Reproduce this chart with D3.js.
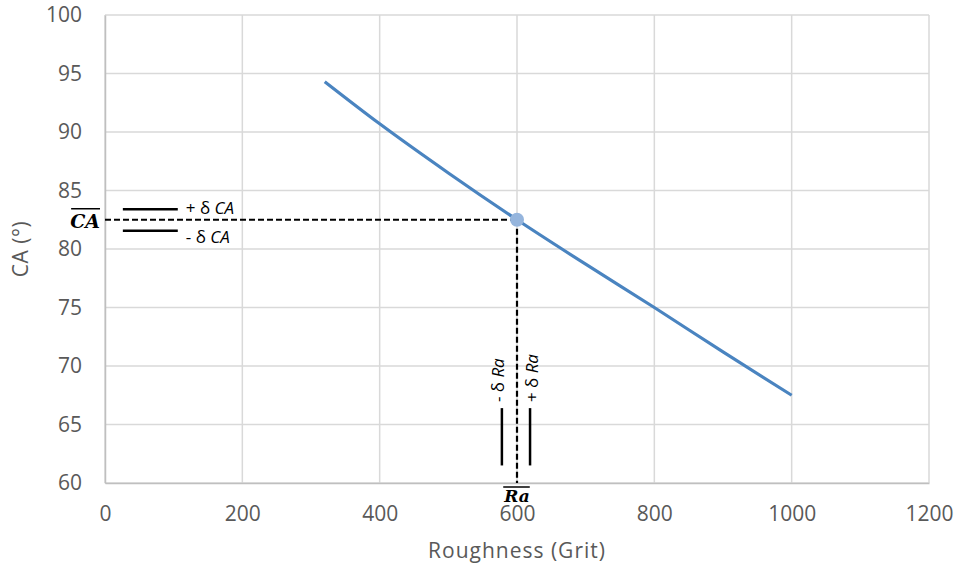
<!DOCTYPE html>
<html>
<head>
<meta charset="utf-8">
<script src="https://cdn.jsdelivr.net/npm/d3@7"></script>
<style>
  body { margin: 0; background: #fff; }
  svg text { font-family: "Open Sans", Lato, sans-serif; }
</style>
</head>
<body>
<div id="chart"></div>
<script>
// curve data
var grit = [320, 400, 500, 600, 700, 800, 900, 1000];
var contactAngle = [94.3, 90.7, 86.5, 82.5, 78.7, 75.0, 71.2, 67.5];

var xTicks = [0, 200, 400, 600, 800, 1000, 1200];
var yTicks = [60, 65, 70, 75, 80, 85, 90, 95, 100];

// annotation values
var raMean = 600, caMean = 82.5;
var caDeltaLevels = [83.4, 81.55];      // +dCA, -dCA
var caDeltaSpan = [26, 106];            // grit range of the short lines
var raDeltaLevels = [578, 619];         // -dRa, +dRa
var raDeltaSpan = [61.5, 66.4];         // CA range of the short lines

var W = 956, H = 567;
var margin = { top: 15, right: 27, bottom: 84, left: 105 },
    width = W - margin.left - margin.right,
    height = H - margin.top - margin.bottom;

var svg = d3.select("#chart").append("svg")
    .attr("width", W)
    .attr("height", H);

var g = svg.append("g")
    .attr("transform", "translate(" + margin.left + "," + margin.top + ")");

var x = d3.scaleLinear().domain([0, 1200]).range([0, width]);
var y = d3.scaleLinear().domain([60, 100]).range([height, 0]);

// gridlines
g.selectAll(".hgrid").data(yTicks).enter().append("line")
    .attr("x1", 0).attr("x2", width)
    .attr("y1", d => y(d)).attr("y2", d => y(d))
    .attr("stroke", "#d9d9d9").attr("stroke-width", 1.5);
g.selectAll(".vgrid").data(xTicks).enter().append("line")
    .attr("y1", 0).attr("y2", height)
    .attr("x1", d => x(d)).attr("x2", d => x(d))
    .attr("stroke", "#d9d9d9").attr("stroke-width", 1.5);

// axes
var gx = g.append("g")
    .attr("transform", "translate(0," + height + ")")
    .call(d3.axisBottom(x).tickValues(xTicks).tickFormat(d3.format("d")).tickSize(0).tickPadding(23));
var gy = g.append("g")
    .call(d3.axisLeft(y).tickValues(yTicks).tickSize(0).tickPadding(23));
[gx, gy].forEach(function (a) {
  a.select(".domain").attr("stroke", "#bfbfbf").attr("stroke-width", 1.5);
  a.selectAll("text").attr("fill", "#595959").style("font-size", "21px");
});

// axis titles
svg.append("text")
    .attr("x", margin.left + x(600)).attr("y", 558)
    .attr("text-anchor", "middle")
    .attr("fill", "#595959").style("font-size", "21px").style("letter-spacing", "1px")
    .text("Roughness (Grit)");
svg.append("text")
    .attr("transform", "translate(28," + (margin.top + y(80)) + ") rotate(-90)")
    .attr("text-anchor", "middle")
    .attr("fill", "#595959").style("font-size", "21px").style("letter-spacing", "0.5px")
    .text("CA (°)");

// the curve
var line = d3.line()
    .x((d, i) => x(grit[i]))
    .y(d => y(d))
    .curve(d3.curveMonotoneX);
g.append("path")
    .datum(contactAngle)
    .attr("fill", "none")
    .attr("stroke", "#4a84c0")
    .attr("stroke-width", 3.2)
    .attr("d", line);

// dashed guides to the mean point
g.append("line")
    .attr("x1", x(0)).attr("x2", x(raMean))
    .attr("y1", y(caMean)).attr("y2", y(caMean))
    .attr("stroke", "#000").attr("stroke-width", 2.2).attr("stroke-dasharray", "6,3");
g.append("line")
    .attr("x1", x(raMean)).attr("x2", x(raMean))
    .attr("y1", y(caMean)).attr("y2", y(60))
    .attr("stroke", "#000").attr("stroke-width", 2.2).attr("stroke-dasharray", "6,3");

g.append("circle")
    .attr("cx", x(raMean)).attr("cy", y(caMean)).attr("r", 7)
    .attr("fill", "#95b5dd");

// +/- delta CA marks
g.selectAll(".cadelta").data(caDeltaLevels).enter().append("line")
    .attr("x1", x(caDeltaSpan[0])).attr("x2", x(caDeltaSpan[1]))
    .attr("y1", d => y(d)).attr("y2", d => y(d))
    .attr("stroke", "#000").attr("stroke-width", 2.5);
var caLabels = ["+ δ ", "- δ "];
caDeltaLevels.forEach(function (v, i) {
  var t = g.append("text")
      .attr("x", x(caDeltaSpan[1]) + 8)
      .attr("y", y(v) + (i == 0 ? 5 : 12))
      .style("font-size", "17px").attr("fill", "#000");
  t.append("tspan").text(caLabels[i]);
  t.append("tspan").attr("font-style", "italic").text("CA");
});

// +/- delta Ra marks
g.selectAll(".radelta").data(raDeltaLevels).enter().append("line")
    .attr("x1", d => x(d)).attr("x2", d => x(d))
    .attr("y1", y(raDeltaSpan[0])).attr("y2", y(raDeltaSpan[1]))
    .attr("stroke", "#000").attr("stroke-width", 2.5);
var raLabels = ["- δ ", "+ δ "];
raDeltaLevels.forEach(function (v, i) {
  var t = g.append("text")
      .attr("transform", "translate(" + (x(v) + (i == 0 ? 2 : 8)) + "," + (y(raDeltaSpan[1]) - 6) + ") rotate(-90)")
      .style("font-size", "17px").attr("fill", "#000");
  t.append("tspan").text(raLabels[i]);
  t.append("tspan").attr("font-style", "italic").text("Ra");
});

// mean labels with overbars
var caBar = g.append("text")
    .attr("x", -5).attr("y", y(caMean) + 8)
    .attr("text-anchor", "end")
    .style("font-family", "'DejaVu Serif', serif")
    .style("font-size", "19px").style("font-weight", "bold").style("font-style", "italic")
    .text("CA");
var cb = caBar.node().getBBox();
g.append("line")
    .attr("x1", cb.x + 1).attr("x2", cb.x + cb.width)
    .attr("y1", y(caMean) - 11).attr("y2", y(caMean) - 11)
    .attr("stroke", "#000").attr("stroke-width", 1.5);

var raBar = g.append("text")
    .attr("x", x(raMean)).attr("y", y(60) + 19)
    .attr("text-anchor", "middle")
    .style("font-family", "'DejaVu Serif', serif")
    .style("font-size", "17px").style("font-weight", "bold").style("font-style", "italic")
    .text("Ra");
var rb = raBar.node().getBBox();
g.append("line")
    .attr("x1", rb.x).attr("x2", rb.x + rb.width)
    .attr("y1", y(60) + 4).attr("y2", y(60) + 4)
    .attr("stroke", "#000").attr("stroke-width", 1.5);
</script>
</body>
</html>
